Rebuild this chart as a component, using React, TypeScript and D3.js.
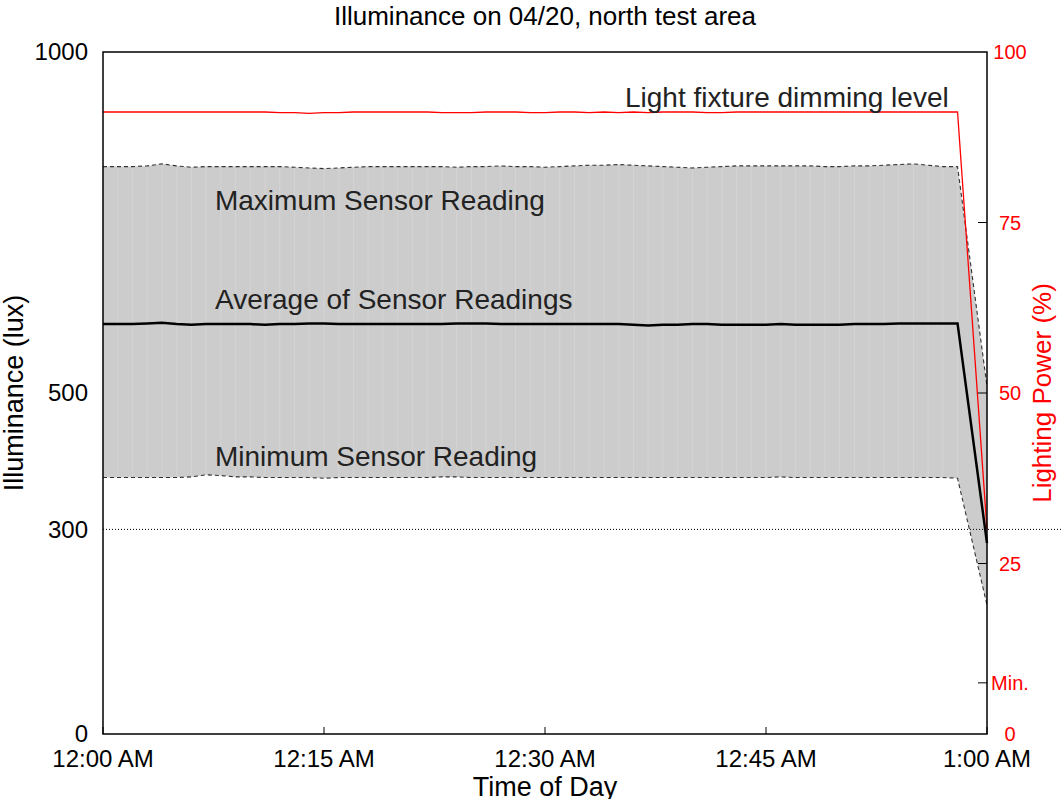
import React from 'react';
import * as d3 from 'd3';

// minutes after 12:00 AM
const minutes = [
  0, 1, 2, 3, 4, 5, 6, 7, 8, 9, 10, 11, 12, 13, 14, 15, 16, 17, 18, 19,
  20, 21, 22, 23, 24, 25, 26, 27, 28, 29, 30, 31, 32, 33, 34, 35, 36, 37, 38, 39,
  40, 41, 42, 43, 44, 45, 46, 47, 48, 49, 50, 51, 52, 53, 54, 55, 56, 57, 58, 60,
];

const maxLux = [
  832, 832, 832, 833, 836, 833, 831, 832, 832, 832, 832, 832, 832, 831, 830, 829, 830, 831, 832, 832,
  832, 832, 832, 832, 831, 832, 832, 833, 832, 832, 831, 832, 833, 834, 834, 835, 834, 833, 832, 831,
  830, 831, 832, 833, 833, 833, 833, 833, 833, 832, 832, 833, 833, 834, 835, 836, 834, 832, 832, 510,
];

const avgLux = [
  601, 601, 601, 602, 603, 601, 600, 601, 601, 601, 601, 600, 601, 601, 602, 602, 601, 601, 601, 601,
  601, 601, 601, 601, 602, 602, 602, 601, 601, 601, 601, 601, 601, 601, 601, 601, 600, 599, 600, 600,
  601, 601, 600, 600, 600, 600, 601, 600, 600, 600, 600, 601, 601, 601, 602, 602, 602, 602, 602, 280,
];

const minLux = [
  376, 376, 376, 376, 376, 376, 377, 380, 379, 377, 377, 376, 376, 376, 376, 375, 376, 376, 376, 376,
  376, 376, 376, 377, 377, 376, 376, 376, 376, 376, 376, 376, 376, 376, 376, 376, 376, 376, 376, 376,
  376, 376, 376, 376, 376, 376, 377, 376, 376, 376, 376, 376, 376, 376, 376, 376, 376, 376, 375, 189,
];

const dimming = [
  91.2, 91.2, 91.2, 91.2, 91.2, 91.2, 91.2, 91.2, 91.2, 91.2, 91.2, 91.2, 91.1, 91.1, 91.0, 91.1, 91.1, 91.2, 91.2, 91.2,
  91.2, 91.2, 91.2, 91.1, 91.1, 91.1, 91.2, 91.2, 91.2, 91.1, 91.1, 91.2, 91.2, 91.1, 91.2, 91.1, 91.2, 91.1, 91.2, 91.2,
  91.2, 91.1, 91.1, 91.2, 91.2, 91.2, 91.2, 91.2, 91.2, 91.2, 91.2, 91.2, 91.2, 91.2, 91.2, 91.2, 91.2, 91.2, 91.2, 30,
];

const xTicks = [0, 15, 30, 45, 60];
const xTickLabels = ['12:00 AM', '12:15 AM', '12:30 AM', '12:45 AM', '1:00 AM'];
const luxTicks = [0, 300, 500, 1000];
const powerTicks = [0, 7.5, 25, 50, 75, 100];
const powerTickLabels = ['0', 'Min.', '25', '50', '75', '100'];

const W = 1061;
const H = 799;
const margin = { top: 52, right: 74, bottom: 65, left: 103 };
const font = '"Liberation Sans", Arial, Helvetica, sans-serif';

const App: React.FC = () => {
  const innerW = W - margin.left - margin.right;
  const innerH = H - margin.top - margin.bottom;

  const x = d3.scaleLinear().domain([0, 60]).range([0, innerW]);
  const y = d3.scaleLinear().domain([0, 1000]).range([innerH, 0]);
  const yP = d3.scaleLinear().domain([0, 100]).range([innerH, 0]);

  const idx = minutes.map((_, i) => i);

  const band = d3.area<number>()
    .x(i => x(minutes[i]))
    .y0(i => y(minLux[i]))
    .y1(i => y(maxLux[i]))(idx) as string;
  const line = (vals: number[], sc: d3.ScaleLinear<number, number>) =>
    d3.line<number>().x(i => x(minutes[i])).y(i => sc(vals[i]))(idx) as string;

  const labelColor = '#222';

  return (
    <svg width={W} height={H} style={{ position: 'absolute', left: 0, top: 0, background: '#fff' }} fontFamily={font}>
      <text x={545} y={25} textAnchor="middle" fontSize={26} fill="#000">
        Illuminance on 04/20, north test area
      </text>
      <g transform={`translate(${margin.left},${margin.top})`}>
        <path d={band} fill="#cccccc" />
        {minutes.slice(0, -1).map((m, i) => (
          <line key={m} x1={x(m)} x2={x(m)} y1={y(maxLux[i]) + 1} y2={y(minLux[i]) - 1}
            stroke="#d4d4d4" strokeWidth={1} />
        ))}
        <line x1={0} x2={W - margin.left} y1={y(300)} y2={y(300)} stroke="#000" strokeWidth={1} strokeDasharray="1,2" />
        <path d={line(maxLux, y)} fill="none" stroke="#333" strokeWidth={1.1} strokeDasharray="4,3" />
        <path d={line(minLux, y)} fill="none" stroke="#333" strokeWidth={1.1} strokeDasharray="4,3" />
        <path d={line(avgLux, y)} fill="none" stroke="#000" strokeWidth={2.5} />
        <path d={line(dimming, yP)} fill="none" stroke="#ff0000" strokeWidth={1.3} />

        <text x={x(7.6)} y={y(826) + 39} fontSize={28} fill={labelColor}>Maximum Sensor Reading</text>
        <text x={x(7.6)} y={y(601) - 15} fontSize={28} fill={labelColor}>Average of Sensor Readings</text>
        <text x={x(7.6)} y={y(376) - 12} fontSize={28} fill={labelColor}>Minimum Sensor Reading</text>
        <text x={x(57.4)} y={y(dimming[0] * 10) - 5} fontSize={28} fill={labelColor} textAnchor="end">
          Light fixture dimming level
        </text>

        {/* frame */}
        <rect x={0} y={0} width={innerW} height={innerH} fill="none" stroke="#000" strokeWidth={1.5} />

        {/* bottom axis */}
        {xTicks.map((t, i) => (
          <g key={t} transform={`translate(${x(t)},${innerH})`}>
            <line y1={0} y2={-7} stroke="#000" strokeWidth={1} />
            <text y={33} textAnchor="middle" fontSize={24} fill="#000">{xTickLabels[i]}</text>
          </g>
        ))}
        <text x={innerW / 2} y={innerH + 62} textAnchor="middle" fontSize={27} fill="#000">Time of Day</text>

        {/* left axis */}
        {luxTicks.map(t => (
          <g key={t} transform={`translate(0,${y(t)})`}>
            <text x={-15} dy="0.35em" textAnchor="end" fontSize={24} fill="#000">{t}</text>
          </g>
        ))}
        <text transform={`translate(${-80},${innerH / 2}) rotate(-90)`} textAnchor="middle" fontSize={27} fill="#000">
          Illuminance (lux)
        </text>

        {/* right axis */}
        {powerTicks.map((t, i) => (
          <g key={t} transform={`translate(${innerW},${yP(t)})`}>
            {t > 0 && t < 100 && <line x1={0} x2={-9} stroke="#000" strokeWidth={1} />}
            <text x={23} dy="0.35em" textAnchor="middle" fontSize={20} fill="#ff0000">{powerTickLabels[i]}</text>
          </g>
        ))}
        <text transform={`translate(${innerW + 64},${innerH / 2}) rotate(-90)`} textAnchor="middle" fontSize={26} fill="#ff0000">
          Lighting Power (%)
        </text>
      </g>
    </svg>
  );
};

export default App;
